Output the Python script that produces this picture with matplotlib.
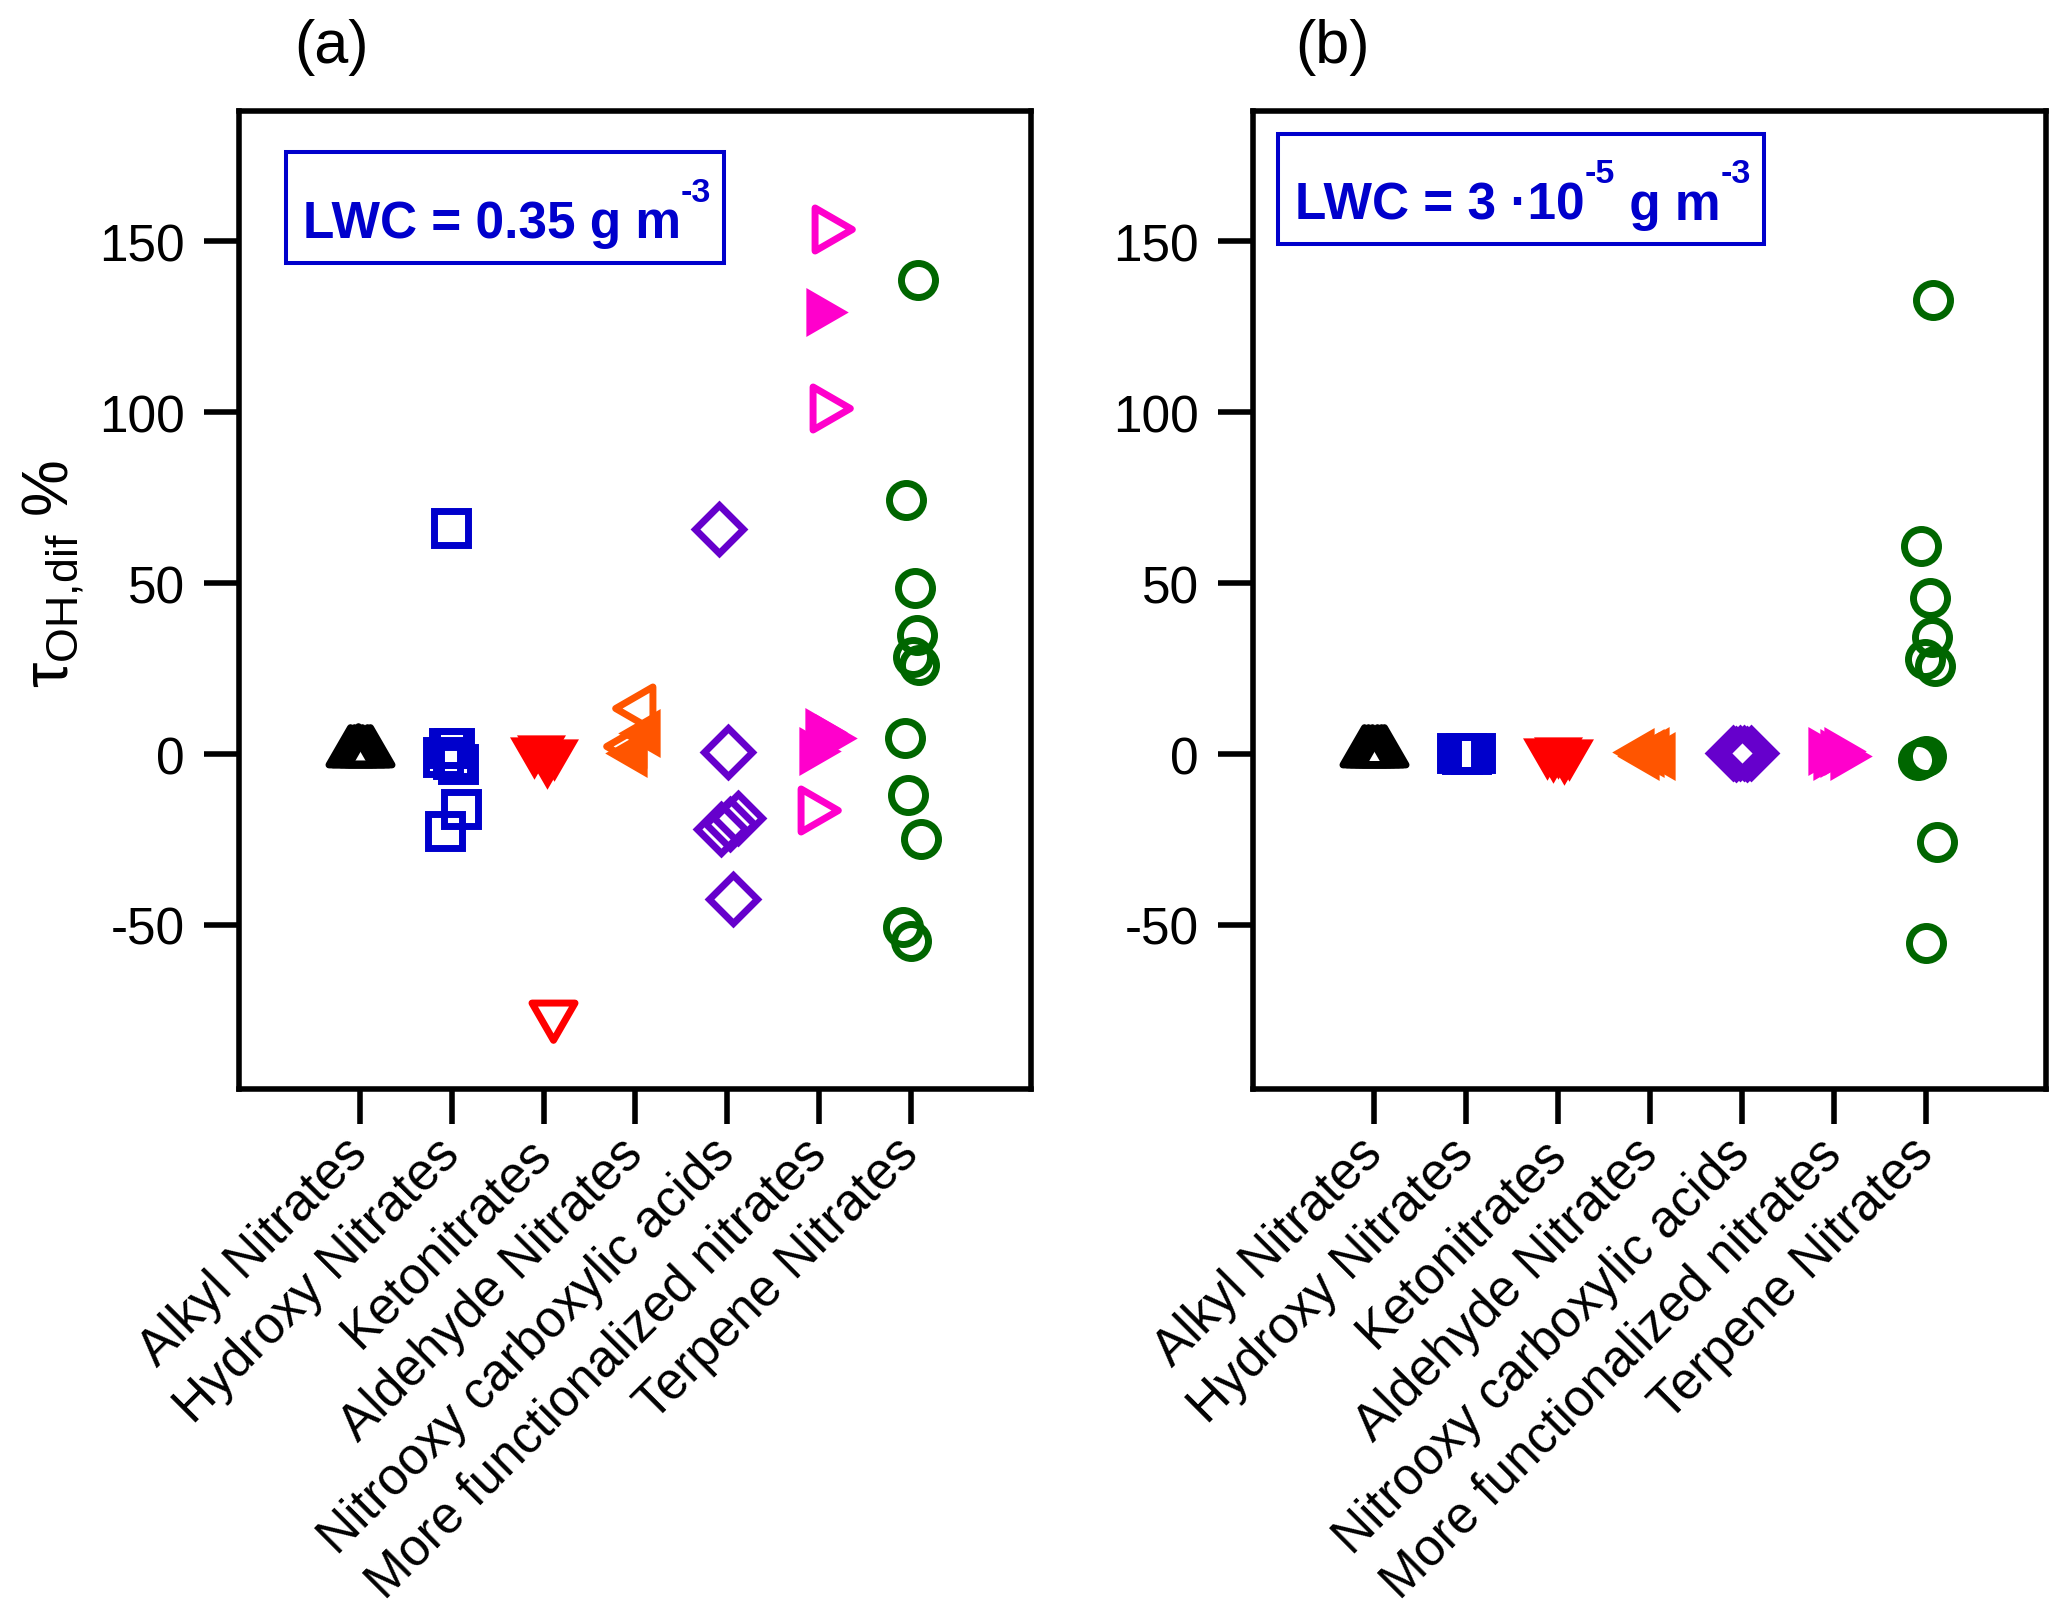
import matplotlib
matplotlib.use("Agg")
import matplotlib.pyplot as plt
from matplotlib.markers import MarkerStyle
from matplotlib.patches import Rectangle
from matplotlib.path import Path

plt.rcParams.update({
    "font.family": ["Liberation Sans", "DejaVu Sans"],
    "mathtext.fontset": "custom",
    "mathtext.rm": "Liberation Sans",
    "mathtext.it": "Liberation Sans:italic",
    "mathtext.bf": "Liberation Sans:bold",
    "axes.unicode_minus": False,
})

categories = ["Alkyl Nitrates", "Hydroxy Nitrates", "Ketonitrates",
              "Aldehyde Nitrates", "Nitrooxy carboxylic acids",
              "More functionalized nitrates", "Terpene Nitrates"]
yticks = [-50, 0, 50, 100, 150]

# ---- panel (a): LWC = 0.35 g m-3  (dx = jitter in category units, y = tau_OH,dif %)
a_alkyl_dx = [-0.11, -0.07, -0.025, 0.025, 0.07, 0.11]
a_alkyl_y = [0.6, 0.5, 0.8, 0.7, 0.5, 0.6]
a_hydroxy_dx = [-0.036, -0.10, 0.07, 0.026, 0.013, 0.10, -0.07, -0.01]
a_hydroxy_y = [1.8, -0.8, -2.8, 1.8, -1.5, -16.1, -22.4, 66.2]
a_keto_fill_dx = [-0.10, -0.03, 0.04, 0.11]
a_keto_fill_y = [0.8, 1.4, -2.0, 0.2]
a_keto_dx = [0.107]
a_keto_y = [-76.5]
a_ald_dx = [0.05, -0.05]
a_ald_y = [13.6, 2.4]
a_ald_fill_dx = [0.12, -0.03]
a_ald_fill_y = [6.3, 0.3]
a_nitrooxy_dx = [-0.09, 0.01, -0.07, 0.03, 0.12, 0.06]
a_nitrooxy_y = [65.9, 0.7, -21.8, -20.5, -18.8, -42.5]
a_morefunc_dx = [0.09, 0.06, -0.07]
a_morefunc_y = [153.7, 101.4, -16.3]
a_morefunc_fill_dx = [0.01, 0.0, 0.11, -0.06]
a_morefunc_fill_y = [129.5, 6.5, 4.6, 1.0]
a_terpene_dx = [0.074, -0.05, 0.045, 0.063, 0.026, 0.088, -0.064, -0.028, 0.107, -0.089, 0.001]
a_terpene_y = [138.7, 74.2, 48.6, 34.9, 28.3, 26.1, 4.8, -12.0, -24.9, -50.7, -54.8]

# ---- panel (b): LWC = 3e-5 g m-3
b_alkyl_dx = [-0.11, -0.07, -0.025, 0.025, 0.07, 0.11]
b_alkyl_y = [0.5, 0.6, 0.5, 0.6, 0.5, 0.6]
b_hydroxy_dx = [-0.10, -0.05, 0.0, 0.05, 0.10]
b_hydroxy_y = [0.2, 0.0, 0.3, 0.1, 0.2]
b_keto_fill_dx = [-0.12, -0.06, 0.0, 0.06, 0.12]
b_keto_fill_y = [0.5, -0.3, 0.8, -0.8, 0.2]
b_ald_fill_dx = [-0.11, -0.05, 0.0, 0.06, 0.12]
b_ald_fill_y = [0.6, -0.5, 0.2, 0.8, -0.6]
b_nitrooxy_dx = [-0.10, -0.06, -0.02, 0.02, 0.06, 0.10]
b_nitrooxy_y = [0.2, 0.1, 0.2, 0.2, 0.1, 0.2]
b_morefunc_fill_dx = [-0.13, -0.07, 0.0, 0.05, 0.11]
b_morefunc_fill_y = [0.8, -0.6, 0.3, 1.0, -0.5]
b_terpene_dx = [0.077, -0.046, 0.048, 0.066, -0.01, 0.10, -0.08, -0.04, 0.0, 0.12, 0.01]
b_terpene_y = [133.0, 60.8, 45.8, 34.4, 27.8, 25.7, -1.8, -1.2, -0.5, -25.8, -55.4]

colors = ["#000000", "#0000CC", "#FF0000", "#FF5500", "#6600CC", "#FF00CC", "#006600"]
lwc_blue = "#0000CC"


def tri(direction):
    # equilateral triangle centred on its centroid
    pts = {"up": [(0, 0.5774), (-0.5, -0.2887), (0.5, -0.2887)],
           "down": [(0, -0.5774), (-0.5, 0.2887), (0.5, 0.2887)],
           "left": [(-0.5774, 0), (0.2887, 0.5), (0.2887, -0.5)],
           "right": [(0.5774, 0), (-0.2887, 0.5), (-0.2887, -0.5)]}[direction]
    return MarkerStyle(Path(pts + [pts[0]], closed=True), joinstyle="miter")


markers = [tri("up"), "s", tri("down"), tri("left"), "D", tri("right"), "o"]
open_size = [35.8, 24.5, 35.8, 35.8, 24.0, 35.8, 24.5]
fill_size = 40.7
mew = 5

panel_a = [
    (0, a_alkyl_dx, a_alkyl_y, False),
    (1, a_hydroxy_dx, a_hydroxy_y, False),
    (2, a_keto_fill_dx, a_keto_fill_y, True),
    (2, a_keto_dx, a_keto_y, False),
    (3, a_ald_dx, a_ald_y, False),
    (3, a_ald_fill_dx, a_ald_fill_y, True),
    (4, a_nitrooxy_dx, a_nitrooxy_y, False),
    (5, a_morefunc_dx, a_morefunc_y, False),
    (5, a_morefunc_fill_dx, a_morefunc_fill_y, True),
    (6, a_terpene_dx, a_terpene_y, False),
]
panel_b = [
    (0, b_alkyl_dx, b_alkyl_y, False),
    (1, b_hydroxy_dx, b_hydroxy_y, False),
    (2, b_keto_fill_dx, b_keto_fill_y, True),
    (3, b_ald_fill_dx, b_ald_fill_y, True),
    (4, b_nitrooxy_dx, b_nitrooxy_y, False),
    (5, b_morefunc_fill_dx, b_morefunc_fill_y, True),
    (6, b_terpene_dx, b_terpene_y, False),
]


def draw_panel(ax, series):
    for i, dx, y, filled in series:
        x = [i + d for d in dx]
        c = colors[i]
        if filled:
            ax.plot(x, y, ls="none", marker=markers[i], ms=fill_size,
                    mfc=c, mec="none", mew=0)
        else:
            ax.plot(x, y, ls="none", marker=markers[i], ms=open_size[i],
                    mfc="none", mec=c, mew=mew)
    ax.set_xlim(-1.32, 7.31)
    ax.set_ylim(-98, 188.2)
    ax.set_yticks(yticks)
    ax.set_xticks(range(len(categories)))
    ax.set_xticklabels(categories, rotation=45, ha="right", va="center",
                       rotation_mode="anchor")
    ax.tick_params(direction="out", length=25, width=4, labelsize=37,
                   pad=14, top=False, right=False)
    ax.tick_params(axis="x", pad=16)
    for sp in ax.spines.values():
        sp.set_linewidth(4)


def lwc_label(ax, x, y, parts, box):
    prev = None
    for s, sup in parts:
        size = 24.5 if sup else 37
        dy = 26.4 if sup else 0
        if prev is None:
            prev = ax.text(x, y, s, transform=ax.transAxes, fontsize=size,
                           fontweight="bold", color=lwc_blue, ha="left", va="baseline")
        else:
            prev = ax.annotate(s, xy=(1, y), xycoords=(prev, "axes fraction"),
                               xytext=(0, dy), textcoords="offset points",
                               fontsize=size, fontweight="bold", color=lwc_blue,
                               ha="left", va="baseline")
    x0, y0, x1, y1 = box
    ax.add_patch(Rectangle((x0, y0), x1 - x0, y1 - y0, transform=ax.transAxes,
                           fill=False, ec=lwc_blue, lw=2.9, clip_on=False))


fig = plt.figure(figsize=(20.67, 16.15), dpi=100)
ax_a = fig.add_axes([0.1156, 0.3251, 0.3832, 0.6056])
ax_b = fig.add_axes([0.6062, 0.3251, 0.3836, 0.6056])

draw_panel(ax_a, panel_a)
draw_panel(ax_b, panel_b)

lwc_label(ax_a, 0.0808, 0.8709, [("LWC = 0.35 g m", False), ("-3", True)],
          (0.059, 0.8446, 0.613, 0.958))
lwc_label(ax_b, 0.053, 0.8896,
          [("LWC = 3 ·10", False), ("-5", True), (" g m", False), ("-3", True)],
          (0.031, 0.864, 0.644, 0.9765))

fig.text(332 / 2067, 1 - 63.5 / 1615, "(a)", fontsize=44, ha="center", va="baseline")
fig.text(1332.7 / 2067, 1 - 63.5 / 1615, "(b)", fontsize=44, ha="center", va="baseline")
fig.text(67 / 2067, 1 - 574 / 1615, r"$\mathrm{\tau}_{\mathrm{OH{,}dif}}$ %", fontsize=46,
         rotation=90, rotation_mode="anchor", ha="center", va="baseline")

fig.savefig("out.png", dpi=100, facecolor="white")
